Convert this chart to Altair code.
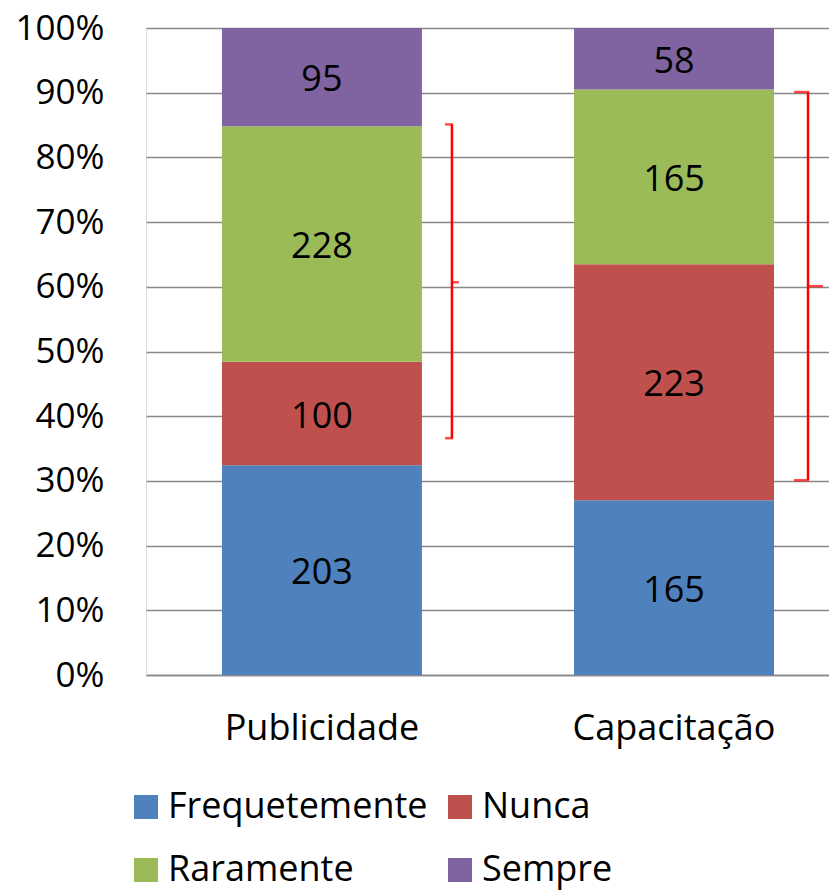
import altair as alt
import pandas as pd

FONT = "Open Sans"

categories = ["Publicidade", "Capacitação"]
series = ["Frequetemente", "Nunca", "Raramente", "Sempre"]
counts_publicidade = [203, 100, 228, 95]
counts_capacitacao = [165, 223, 165, 58]
colors = ["#4F81BD", "#C0504D", "#9BBB59", "#8064A2"]
y_ticks = [0.0, 0.1, 0.2, 0.3, 0.4, 0.5, 0.6, 0.7, 0.8, 0.9, 1.0]

# red braces (fraction of the bar height)
brace_low = [0.366, 0.301]
brace_mid = [0.607, 0.601]
brace_high = [0.851, 0.901]

rows = []
for cat, vals in zip(categories, [counts_publicidade, counts_capacitacao]):
    for i, (s, v) in enumerate(zip(series, vals)):
        rows.append({"cat": cat, "serie": s, "value": v, "ordem": i})
df = pd.DataFrame(rows)

x_axis = alt.Axis(
    title=None, labelAngle=0, ticks=False, tickSize=0, labelPadding=36,
    labelFontSize=36, labelFont=FONT, labelColor="black", labelLimit=0,
    domainColor="#888888", domainWidth=1.5, grid=False,
)
x_scale = alt.Scale(paddingInner=0.432, paddingOuter=0.186, align=0.58)

y_axis = alt.Axis(
    title=None, format=".0%", values=y_ticks, domain=False, ticks=False,
    labelPadding=42, labelFontSize=35, labelFont=FONT, labelColor="black",
    labelLimit=0, grid=True, gridColor="#888888", gridWidth=1.5,
)
y_scale = alt.Scale(domain=[0, 1], nice=False)


def bx():
    return alt.X("cat:N", sort=categories, scale=x_scale, axis=x_axis)


def by(field, **kw):
    return alt.Y(field, scale=y_scale, axis=y_axis, **kw)


bars = alt.Chart(df).mark_bar().encode(
    x=bx(),
    y=by("value:Q", stack="normalize"),
    color=alt.Color(
        "serie:N",
        scale=alt.Scale(domain=series, range=colors),
        legend=alt.Legend(
            title=None, orient="none", legendX=-18, legendY=761, columns=2,
            direction="horizontal",
            symbolType="square", symbolSize=576, symbolStrokeWidth=0,
            symbolOpacity=1, labelFontSize=36, labelFont=FONT, labelColor="black",
            labelLimit=0, labelOffset=4, columnPadding=14, rowPadding=27, padding=0,
        ),
    ),
    order=alt.Order("ordem:Q", sort="ascending"),
)

labels = alt.Chart(df).transform_joinaggregate(
    total="sum(value)", groupby=["cat"]
).transform_window(
    cum="sum(value)", sort=[alt.SortField("ordem")], groupby=["cat"], frame=[None, 0]
).transform_calculate(
    mid="(datum.cum - datum.value / 2) / datum.total"
).mark_text(font=FONT, fontSize=36, color="black", baseline="middle", dy=3).encode(
    x=bx(),
    y=by("mid:Q"),
    text="value:Q",
)

brace_df = pd.DataFrame({
    "cat": categories, "low": brace_low, "mid": brace_mid, "high": brace_high
})
brace_styles = {"Publicidade": (130, 8, 7), "Capacitação": (134, 15, 15)}

layers = [bars, labels]
for cat, (vx, hook, prong) in brace_styles.items():
    base = alt.Chart(brace_df).transform_filter(alt.datum.cat == cat)
    layers.append(base.mark_rule(color="#FF0000", strokeWidth=2.5, xOffset=vx).encode(
        x=bx(), y=by("low:Q"), y2="high:Q"))
    for fld in ["low", "high"]:
        layers.append(base.mark_tick(color="#FF0000", orient="horizontal", size=hook,
                                     thickness=2.5, xOffset=vx - hook / 2 + 1).encode(
            x=bx(), y=by(f"{fld}:Q")))
    layers.append(base.mark_tick(color="#FF0000", orient="horizontal", size=prong,
                                 thickness=2.5, xOffset=vx + prong / 2).encode(
        x=bx(), y=by("mid:Q")))

chart = alt.layer(*layers).properties(
    width=683, height=647,
    autosize=alt.AutoSizeParams(type="none"),
    padding={"left": 138, "top": 20, "right": 0, "bottom": 217},
).configure_view(stroke=None).configure(background="white")

chart.save("out.html", embed_options={"renderer": "svg", "actions": False})
